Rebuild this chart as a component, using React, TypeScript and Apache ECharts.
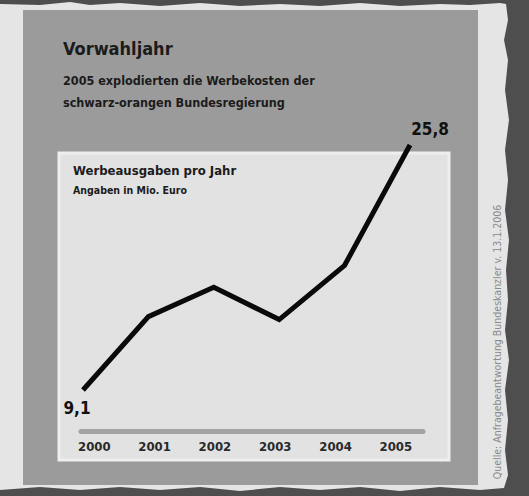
import React, { useEffect, useRef } from "react";
import * as echarts from "echarts";

const years = ["2000", "2001", "2002", "2003", "2004", "2005"];
const spending = [9.1, 14.1, 16.1, 13.9, 17.6, 25.8];
const labelPositions = [0, 1, 2, 3, 4, 5];

const titleText = "Vorwahljahr";
const subtitleLines = ["2005 explodierten die Werbekosten der", "schwarz-orangen Bundesregierung"];
const innerTitle = "Werbeausgaben pro Jahr";
const innerSubtitle = "Angaben in Mio. Euro";
const sourceText = "Quelle: Anfragebeantwortung Bundeskanzler v. 13.1.2006";

const FONT = "'DejaVu Sans Condensed', 'Liberation Sans', sans-serif";

export default function App() {
  const ref = useRef<HTMLDivElement>(null);
  useEffect(() => {
    document.body.style.margin = "0";
    const chart = echarts.init(ref.current!, null, { renderer: "svg" });
    const last = spending.length - 1;
    const lineData = spending.map((v, i) => {
      if (i === 0) {
        return { value: v, label: { show: true, position: "bottom", offset: [-6, 4] } };
      }
      if (i === last) {
        return { value: v, label: { show: true, position: "top", offset: [20, -2] } };
      }
      return { value: v };
    });
    const tornTop: number[][] = [
      [0, 4], [40, 5], [70, 2], [90, 5], [120, 3], [160, 6], [200, 3], [240, 6], [280, 4], [320, 6], [360, 3], [400, 6], [440, 4], [470, 5], [500, 3], [506, 4]
    ];
    const tornRight: number[][] = [
      [508, 20], [504, 40], [508, 60], [505, 90], [509, 120], [505, 150], [508, 180], [505, 210], [509, 240], [506, 270], [508, 300], [505, 330], [509, 360], [505, 390], [508, 420], [505, 450], [508, 475], [504, 488]
    ];
    const tornBottom: number[][] = [
      [480, 490], [440, 487], [400, 491], [360, 487], [320, 490], [280, 487], [240, 491], [200, 487], [160, 490], [120, 487], [80, 490], [40, 487], [0, 490]
    ];
    const paperPoints = [...tornTop, ...tornRight, ...tornBottom];

    chart.setOption({
      animation: false,
      backgroundColor: "#4e4e4e",
      graphic: [
        { type: "polygon", z: -10, shape: { points: paperPoints }, style: { fill: "#e4e5e4" } },
        { type: "rect", z: -9, shape: { x: 23, y: 10, width: 455, height: 475 }, style: { fill: "#9b9b9b" } },
        { type: "rect", z: -8, shape: { x: 59, y: 153, width: 390, height: 307 }, style: { fill: "#e1e2e1", stroke: "#eeeeee", lineWidth: 3 } },
        { type: "text", x: 63, y: 48, style: { text: titleText, font: `bold 18px ${FONT}`, fill: "#1b1b1b", verticalAlign: "middle" } },
        { type: "text", x: 63, y: 80, style: { text: subtitleLines[0], font: `bold 12.5px ${FONT}`, fill: "#1b1b1b", verticalAlign: "middle" } },
        { type: "text", x: 63, y: 102, style: { text: subtitleLines[1], font: `bold 12.5px ${FONT}`, fill: "#1b1b1b", verticalAlign: "middle" } },
        { type: "text", x: 73, y: 170, style: { text: innerTitle, font: `bold 13px ${FONT}`, fill: "#1b1b1b", verticalAlign: "middle" } },
        { type: "text", x: 73, y: 190, style: { text: innerSubtitle, font: `bold 10.5px ${FONT}`, fill: "#1b1b1b", verticalAlign: "middle" } },
        { type: "text", x: 497, y: 342, rotation: Math.PI / 2, style: { text: sourceText, font: `10.5px ${FONT}`, fill: "#8a8a8a", align: "center", verticalAlign: "middle" } }
      ],
      grid: [
        { left: 83, right: 529 - 410, top: 145, bottom: 496 - 390 },
        { left: 81, right: 529 - 423, top: 425, height: 6 }
      ],
      xAxis: [
        { type: "category", gridIndex: 0, data: years, boundaryGap: false, show: false },
        {
          type: "value",
          gridIndex: 1,
          min: -0.22,
          max: 5.45,
          position: "bottom",
          splitLine: { show: false },
          axisTick: { show: false },
          axisLine: { show: true, onZero: false, lineStyle: { color: "#a3a3a3", width: 5 } },
          axisLabel: {
            customValues: labelPositions,
            formatter: (v: number) => years[Math.round(v)],
            margin: 9,
            color: "#2a2a2a",
            fontWeight: "bold",
            fontSize: 13,
            fontFamily: FONT
          }
        }
      ],
      yAxis: [
        { type: "value", gridIndex: 0, min: 9.1, max: 25.8, show: false },
        { type: "value", gridIndex: 1, show: false }
      ],
      series: [
        {
          type: "line",
          xAxisIndex: 0,
          yAxisIndex: 0,
          data: lineData,
          symbol: "circle",
          symbolSize: 1,
          showSymbol: true,
          itemStyle: { color: "rgba(0,0,0,0)" },
          lineStyle: { color: "#0a0a0a", width: 5, join: "miter" },
          label: {
            show: false,
            formatter: (p: any) => String(p.value).replace(".", ","),
            color: "#111",
            fontWeight: "bold",
            fontSize: 17,
            fontFamily: FONT
          }
        }
      ]
    });
    return () => chart.dispose();
  }, []);
  return <div ref={ref} style={{ width: 529, height: 496 }} />;
}
